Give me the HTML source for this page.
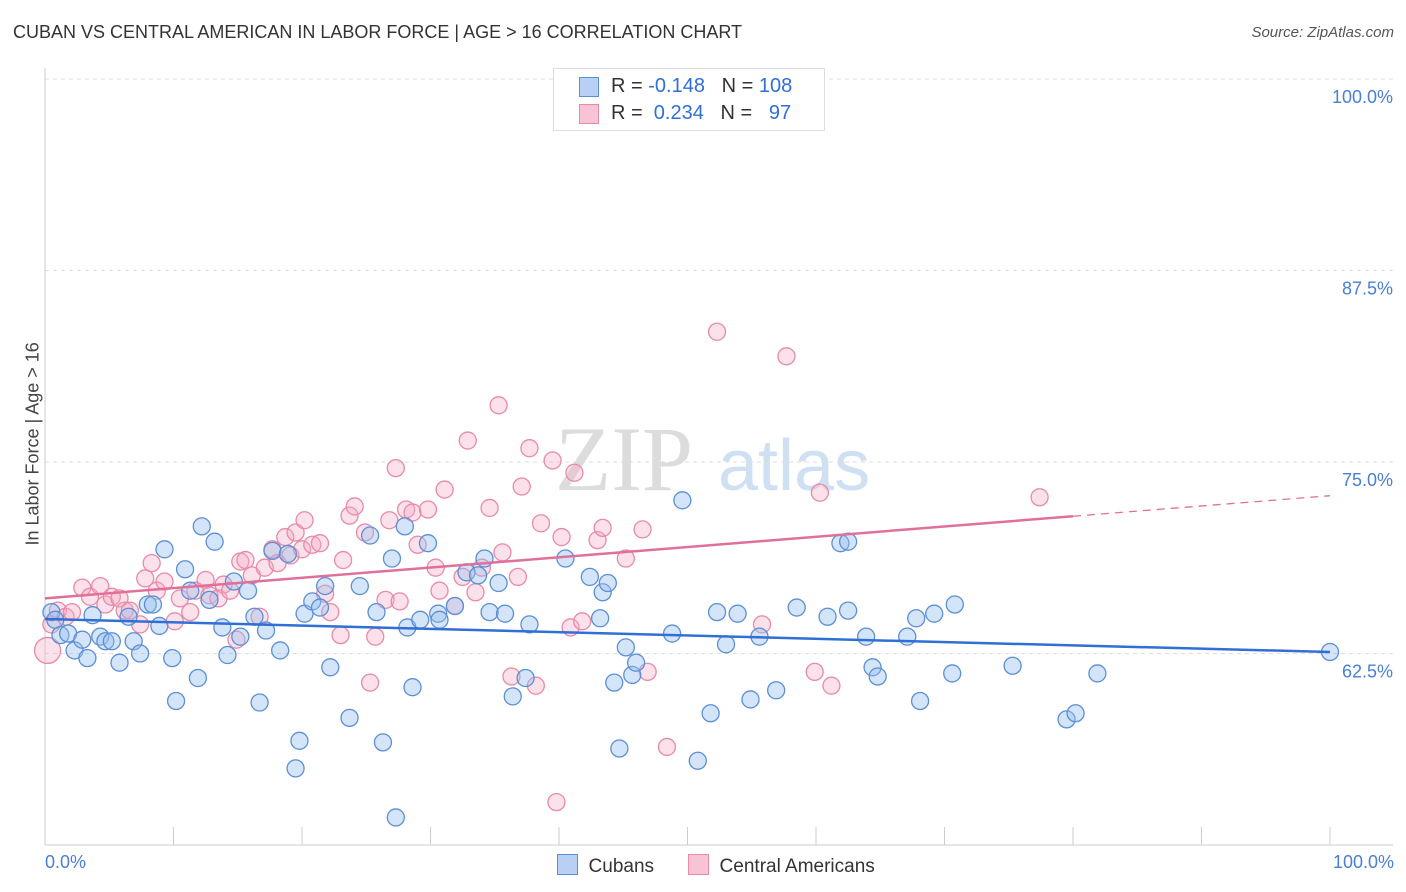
<!DOCTYPE html>
<html><head><meta charset="utf-8">
<style>
body{margin:0;background:#fff;font-family:"Liberation Sans",sans-serif;}
#wrap{position:relative;width:1406px;height:892px;overflow:hidden;}
.t{position:absolute;white-space:nowrap;}
</style></head><body>
<div id="wrap">
<div class="t" style="left:13px;top:22px;font-size:18px;color:#333;">CUBAN VS CENTRAL AMERICAN IN LABOR FORCE | AGE &gt; 16 CORRELATION CHART</div>
<div class="t" style="right:12px;top:24px;font-size:15px;color:#555;font-style:italic;">Source: ZipAtlas.com</div>
<svg id="plot" width="1406" height="892" style="position:absolute;left:0;top:0"></svg>
</div>
<script>
const blueX=[0.5,0.8,1.2,1.8,2.3,2.9,3.3,3.7,4.3,4.7,5.2,5.8,6.5,6.9,7.4,8.0,8.4,8.9,9.3,9.9,10.2,10.9,11.3,11.9,12.2,12.8,13.2,13.8,14.2,14.7,15.2,15.8,16.3,16.7,17.2,17.7,18.3,18.9,19.5,19.8,20.2,20.8,21.4,21.8,22.2,23.7,24.5,25.3,25.8,26.3,27.0,27.3,28.0,28.2,28.6,29.2,29.8,30.6,30.7,31.9,32.8,33.7,34.2,34.6,35.3,35.8,36.4,37.4,37.7,40.5,42.4,43.2,43.4,43.8,44.3,44.7,45.2,45.7,46.0,48.8,49.6,50.8,51.8,52.3,53.0,53.9,54.9,55.6,56.9,58.5,60.9,61.9,62.5,62.5,63.9,64.4,64.8,67.1,68.1,67.8,69.2,70.6,70.8,75.3,79.5,80.2,81.9,100];
const blueY=[65.2,64.7,63.7,63.8,62.7,63.4,62.2,65.0,63.6,63.3,63.3,61.9,64.9,63.3,62.5,65.7,65.7,64.3,69.3,62.2,59.4,68.0,66.6,60.9,70.8,66.0,69.8,64.2,62.4,67.2,63.6,66.6,64.9,59.3,64.0,69.2,62.7,69.0,55.0,56.8,65.1,65.9,65.5,66.9,61.6,58.3,66.9,70.2,65.2,56.7,68.7,51.8,70.8,64.2,60.3,64.7,69.7,65.1,64.7,65.6,67.8,67.6,68.7,65.2,67.1,65.1,59.7,60.9,64.4,68.7,67.5,64.8,66.5,67.1,60.6,56.3,62.9,61.1,61.9,63.8,72.5,55.5,58.6,65.2,63.1,65.1,59.5,63.6,60.1,65.5,64.9,69.7,69.8,65.3,63.6,61.6,61.0,63.6,59.4,64.8,65.1,61.2,65.7,61.7,58.2,58.6,61.2,62.6];
const pinkX=[0.2,0.5,1.0,1.6,2.1,2.9,3.5,4.3,4.7,5.2,5.8,6.2,6.6,7.4,7.8,8.3,8.7,9.3,10.1,10.5,11.3,11.7,12.5,12.8,13.5,13.9,14.4,14.9,15.2,15.6,16.1,16.7,17.1,17.7,18.1,18.7,19.1,19.5,20.0,20.2,20.8,21.4,21.8,22.2,23.0,23.2,23.7,24.1,24.9,25.3,25.7,26.5,26.8,27.3,27.6,28.1,28.6,29.0,29.8,30.4,30.7,31.1,31.9,32.5,32.9,33.5,34.0,34.6,35.3,35.6,36.3,36.8,37.1,37.7,38.2,38.6,39.5,39.8,40.2,40.9,41.2,41.8,43.0,43.4,45.2,46.5,46.9,48.4,52.3,55.8,57.7,59.9,60.3,61.2,77.4];
const pinkY=[62.7,64.4,65.3,64.9,65.2,66.8,66.2,66.9,65.7,66.2,66.1,65.3,65.3,64.4,67.4,68.4,66.6,67.2,64.6,66.1,65.2,66.6,67.3,66.3,66.1,67.0,66.6,63.4,68.5,68.6,67.6,64.9,68.1,69.3,68.4,70.1,68.9,70.4,69.3,71.2,69.6,69.7,66.4,65.2,63.7,68.6,71.5,72.1,70.4,60.6,63.6,66.0,71.2,74.6,65.9,71.9,71.7,69.6,71.9,68.1,66.6,73.2,65.6,67.5,76.4,66.5,68.1,72.0,78.7,69.1,61.0,67.5,73.4,75.9,60.4,71.0,75.1,52.8,70.1,64.2,74.3,64.6,69.9,70.7,68.7,70.6,61.3,56.4,83.5,64.4,81.9,61.3,73.0,60.4,72.7];
const blueTrend=[64.75,62.6];
const pinkTrend=[66.1,72.8];
const pinkTrendSolidEnd=80;
const yTicks=[100,87.5,75,62.5];
const yTickLabels=["100.0%","87.5%","75.0%","62.5%"];

const svg=document.getElementById('plot');
const NS='http://www.w3.org/2000/svg';
const X=v=>45+v*12.85;
const Y=v=>79+(100-v)*15.32;
function mk(tag,attrs,parent){const e=document.createElementNS(NS,tag);for(const k in attrs)e.setAttribute(k,attrs[k]);(parent||svg).appendChild(e);return e;}

// watermark
let wm=mk('text',{x:555,y:490,'font-size':92,'font-family':'Liberation Serif,serif',fill:'#dcdcdc'});wm.textContent='ZIP';


let wm2=mk('text',{x:718,y:490,'font-size':72,'font-family':'Liberation Sans,sans-serif',fill:'#cfe0f3'});wm2.textContent='atlas';



// gridlines & labels
yTicks.forEach((v,i)=>{
  const g=mk('line',{x1:45,x2:1393,y1:Y(v),y2:Y(v),stroke:'#dddddd','stroke-dasharray':'4,4'});
  
  
  const t=mk('text',{x:1393,y:Y(v)+24,'text-anchor':'end','font-size':18,fill:'#4a7fd4','font-family':'Liberation Sans,sans-serif'});
  t.textContent=yTickLabels[i];
  
  
});
// axes
let ax=mk('line',{x1:45,x2:45,y1:68,y2:845,stroke:'#cccccc'});


let bx=mk('line',{x1:45,x2:1393,y1:845,y2:845,stroke:'#cccccc'});


for(let i=0;i<=10;i++){
  const tk=mk('line',{x1:X(i*10),x2:X(i*10),y1:827,y2:845,stroke:'#cccccc'});
  
  
}
// points
function dots(xs,ys,stroke,fill,name){
  xs.forEach((x,i)=>{
    const c=mk('circle',{cx:X(x),cy:Y(ys[i]),r:(name==='pink-point'&&i===0)?13:8.5,fill:fill,stroke:stroke,'stroke-width':1.3});
    
    
  });
}
dots(pinkX,pinkY,'#e88aa8','rgba(245,170,195,0.35)','pink-point');
dots(blueX,blueY,'#5b8fd6','rgba(150,190,240,0.40)','blue-point');
// trends
let bl=mk('line',{x1:X(0),y1:Y(blueTrend[0]),x2:X(100),y2:Y(blueTrend[1]),stroke:'#2f6fd6','stroke-width':2.5});


const pm=pinkTrend[0]+(pinkTrend[1]-pinkTrend[0])*pinkTrendSolidEnd/100;
let pl=mk('line',{x1:X(0),y1:Y(pinkTrend[0]),x2:X(pinkTrendSolidEnd),y2:Y(pm),stroke:'#e0709a','stroke-width':2.5});


let pd=mk('line',{x1:X(pinkTrendSolidEnd),y1:Y(pm),x2:X(100),y2:Y(pinkTrend[1]),stroke:'#e0709a','stroke-width':1.3,'stroke-dasharray':'8,6'});


</script>
<div class="t" style="left:-57px;top:445px;transform:rotate(-90deg);font-size:18px;color:#444;width:180px;text-align:center;">In Labor Force | Age &gt; 16</div>
<div class="t" style="left:45px;top:852px;font-size:18px;color:#4a7fd4;">0.0%</div>
<div class="t" style="right:12px;top:852px;font-size:18px;color:#4a7fd4;">100.0%</div>
<div style="position:absolute;left:553px;top:68px;width:270px;height:61px;border:1px solid #ddd;background:#fff;font-size:20px;color:#333;">
  <div style="position:absolute;left:25px;top:8px;width:18px;height:18px;background:#b7d0f3;border:1px solid #5b8fd6;"></div>
  <div class="t" style="left:57px;top:6px;">R = <span style="color:#2f6fd6">-0.148</span>&nbsp;&nbsp;&nbsp;N = <span style="color:#2f6fd6">108</span></div>
  <div style="position:absolute;left:25px;top:35px;width:18px;height:18px;background:#f8c3d4;border:1px solid #e88aa8;"></div>
  <div class="t" style="left:57px;top:33px;">R = &nbsp;<span style="color:#2f6fd6">0.234</span>&nbsp;&nbsp;&nbsp;N = &nbsp;&nbsp;<span style="color:#2f6fd6">97</span></div>
</div>
<div style="position:absolute;left:557px;top:854px;font-size:19px;color:#333;">
  <span style="display:inline-block;width:19px;height:19px;background:#b7d0f3;border:1px solid #5b8fd6;vertical-align:-3px;"></span>&nbsp; Cubans</div>
<div style="position:absolute;left:688px;top:854px;font-size:19px;color:#333;">
  <span style="display:inline-block;width:19px;height:19px;background:#f8c3d4;border:1px solid #e88aa8;vertical-align:-3px;"></span>&nbsp; Central Americans</div>
</body></html>
